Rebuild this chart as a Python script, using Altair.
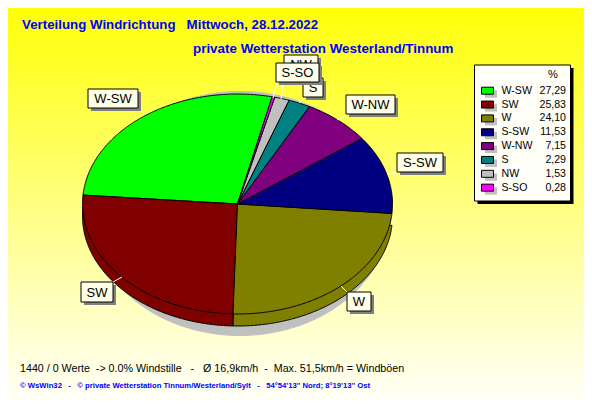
import math
import altair as alt
import pandas as pd

categories = ["W-SW", "SW", "W", "S-SW", "W-NW", "S", "NW", "S-SO"]
shares = [27.29, 25.83, 24.10, 11.53, 7.15, 2.29, 1.53, 0.28]
share_labels = ["27,29", "25,83", "24,10", "11,53", "7,15", "2,29", "1,53", "0,28"]
colors = ["#00ff00", "#800000", "#808000", "#000080", "#800080", "#008080", "#c0c0c0", "#ff00ff"]
title_1 = "Verteilung Windrichtung\u00a0\u00a0\u00a0Mittwoch, 28.12.2022"
title_2 = "private Wetterstation Westerland/Tinnum"
foot_1 = "1440 / 0 Werte\u00a0\u00a0-> 0.0% Windstille\u00a0\u00a0\u00a0-\u00a0\u00a0\u00a0Ø 16,9km/h\u00a0\u00a0-\u00a0\u00a0Max. 51,5km/h = Windböen"
foot_2 = "© WsWin32\u00a0\u00a0\u00a0-\u00a0\u00a0\u00a0© private Wetterstation Tinnum/Westerland/Sylt\u00a0\u00a0\u00a0-\u00a0\u00a0\u00a054°54'13'' Nord; 8°19'13'' Ost"

FONT = "Liberation Sans"
X = alt.Scale(domain=[8, 584], nice=False, zero=False)
Y = alt.Scale(domain=[399, 8], nice=False, zero=False)
CX, CY, RX, RY, DEPTH = 237.5, 204, 155, 110, 12
START = 12.9  # degrees clockwise of the top where the first slice begins


def enc(**kw):
    out = {}
    for k, v in kw.items():
        if k in ("x", "x2"):
            out[k] = alt.X(f"{k}:Q", scale=X, axis=None) if k == "x" else alt.X2(f"{k}")
        elif k in ("y", "y2"):
            out[k] = alt.Y(f"{k}:Q", scale=Y, axis=None) if k == "y" else alt.Y2(f"{k}")
    return out


def rect(x, x2, y, y2, fill, stroke=None):
    d = pd.DataFrame([{"x": x, "x2": x2, "y": y, "y2": y2}])
    args = {"fill": fill, "strokeWidth": 1}
    if stroke:
        args["stroke"] = stroke
    return alt.Chart(d).mark_rect(**args).encode(**enc(x=1, x2=1, y=1, y2=1))


def text(x, y, s, size=11, color="black", align="left", bold=False):
    d = pd.DataFrame([{"x": x, "y": y, "t": s}])
    args = dict(font=FONT, fontSize=size, color=color, align=align, baseline="middle",
                fontWeight="bold" if bold else "normal")
    return alt.Chart(d).mark_text(**args).encode(text="t:N", **enc(x=1, y=1))


def poly(points, fill, stroke="black"):
    d = pd.DataFrame([{"x": p[0], "y": p[1], "i": i} for i, p in enumerate(points)])
    args = {"fill": fill, "strokeWidth": 1, "interpolate": "linear", "stroke": stroke}
    return alt.Chart(d).mark_line(**args).encode(order="i:Q", **enc(x=1, y=1))


def wedge(a0, a1, dy=0):
    n = max(2, int((a1 - a0) * 2))
    pts = [(CX, CY + dy)]
    for k in range(n + 1):
        a = math.radians(a0 + (a1 - a0) * k / n)
        pts.append((CX - RX * math.sin(a), CY + dy - RY * math.cos(a)))
    pts.append((CX, CY + dy))
    return pts


layers = []
layers.append(
    alt.Chart(pd.DataFrame([{"x": 8, "x2": 584, "y": 8, "y2": 399}]))
    .mark_rect(color=alt.Gradient(gradient="linear", x1=0, x2=0, y1=0, y2=1,
                                  stops=[alt.GradientStop(color="#ffff08", offset=0),
                                         alt.GradientStop(color="#fffff8", offset=1)]))
    .encode(**enc(x=1, x2=1, y=1, y2=1))
)
layers.append(text(22, 25, title_1, 13.3, "#0000ff", bold=True))
layers.append(text(193, 49, title_2, 13.4, "#0000ff", bold=True))
layers.append(text(20, 369, foot_1, 10.7))
layers.append(text(20, 386, foot_2, 7.7, "#0000ff", bold=True))

# shadow under the pie
shadow = [(240 + 150 * math.cos(math.radians(t)), 213.5 + 122 * math.sin(math.radians(t)))
          for t in range(0, 361, 3)]
layers.append(poly(shadow, "#c0c0c0", "#c0c0c0"))

# slice angles from the shares
angles = []
a = -START
for v in shares:
    angles.append((a, a + v / sum(shares) * 360))
    a = angles[-1][1]

# side wall, then top face
for i in (1, 2):
    layers.append(poly(wedge(*angles[i], dy=DEPTH), colors[i]))
for i in range(len(categories)):
    layers.append(poly(wedge(*angles[i]), colors[i]))

# callouts: category -> box and leader
callouts = {
    "W-SW": (88, 138, 89, 108, (140, 110), (146, 114)),
    "SW": (81, 113, 282, 302, (113, 282), (122, 277)),
    "W": (347, 371, 292, 311, (347, 292), (341, 286)),
    "S-SW": (397, 443, 153, 172, (397, 172), (387, 174)),
    "W-NW": (346, 395, 95, 114, (346, 115), (337, 120)),
    "NW": (284, 318, 55, 74, (283, 82), (281, 99)),
    "S": (303, 323, 78, 97, (305, 97), (299, 103)),
    "S-SO": (276, 319, 63, 82, (277, 82), (273, 98)),
}
for name, (_, _, _, _, p0, p1) in callouts.items():
    d = pd.DataFrame([{"x": p0[0], "y": p0[1], "i": 0}, {"x": p1[0], "y": p1[1], "i": 1}])
    layers.append(alt.Chart(d).mark_line(color="white", strokeWidth=1).encode(order="i:Q", **enc(x=1, y=1)))
for name, (x0, x1, y0, y1, _, _) in callouts.items():
    layers.append(rect(x0 + 3, x1 + 3, y0 + 3, y1 + 3, "#808080"))
    layers.append(rect(x0, x1, y0, y1, "#ffffe8", "black"))
    layers.append(text((x0 + x1) / 2, (y0 + y1) / 2 + 0.5, name, 13, align="center"))

# legend
layers.append(rect(477.5, 573.5, 68, 204, "black"))
layers.append(rect(474.5, 570.5, 65, 201, "#fffff8", "black"))
layers.append(text(553, 75, "%", 11, align="center"))
for i, name in enumerate(categories):
    yc = 90.7 + 13.85 * i
    layers.append(rect(485, 497, yc - 0.5, yc + 7, "#c0c0c0"))
    layers.append(rect(481.5, 493.5, yc - 3.5, yc + 3.5, colors[i], "black"))
    layers.append(text(501.5, yc, name, 10.6))
    layers.append(text(566, yc, share_labels[i], 10.6, align="right"))

chart = alt.layer(*layers).properties(
    width=576, height=391, padding=0, autosize=alt.AutoSizeParams(type="none")
).configure_view(stroke=None)

chart.save("out.html", embed_options={"renderer": "svg", "actions": False})
